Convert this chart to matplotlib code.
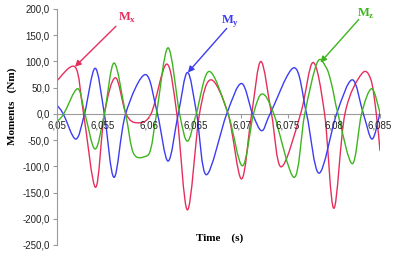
"""
Moments Mx / My / Mz against time, smoothed lines (Excel-style chart).
"""

import matplotlib
matplotlib.use("Agg")
import matplotlib.pyplot as plt
from matplotlib.path import Path
from matplotlib.patches import PathPatch
import numpy as np

# ── data ─────────────────────────────────────────────────────────────────────
# time is given as milliseconds after 6.05 s, moments in Nm
mx_ms = [0, 2.0, 2.9, 4.2, 5.15, 6.35, 7.5, 8.7, 10.2, 11.9, 13.0, 14.15,
         15.45, 16.7, 18.55, 20.0, 21.1, 22.1, 23.25, 24.3, 26.4, 27.75,
         29.0, 30.0, 31.2, 33.0, 34.0, 34.6, 35.0]
mx_nm = [63, 89, 0, -140, 0, 69, 0, -17, 0, 95, 0, -183,
         0, 65, 0, -124, 0, 100, 0, -101, 0, 98,
         0, -180, 0, 76, 66, 0, -70]

my_ms = [0, 0.7, 2.05, 3.0, 4.15, 5.15, 6.2, 7.45, 9.6, 10.9, 12.05, 13.15,
         14.15, 15.15, 16.2, 18.4, 20.0, 21.2, 22.2, 23.1, 25.7, 27.05,
         28.4, 30.3, 32.0, 33.2, 34.15, 35.0]
my_nm = [17, 0, -48, 0, 87, 0, -121, 0, 75, 0, -90, 0,
         79, 0, -116, 0, 58, 0, -32, 0, 88, 0,
         -113, 0, 65, 0, -48, 2]

mz_ms = [0, 0.75, 2.25, 3.05, 4.15, 5.15, 6.2, 7.45, 8.3, 9.6, 10.2, 10.8,
         12.05, 13.3, 14.15, 15.1, 16.5, 18.55, 20.1, 21.3, 22.25, 23.5,
         25.7, 26.85, 28.2, 29.15, 29.75, 30.45, 32.0, 33.0, 34.1, 35.0]
mz_nm = [-15, 0, 48, 0, -67, 0, 97, 0, -75, -81, -65, 0,
         126, 0, -52, 0, 81, 0, -99, 0, 38, 0,
         -121, 0, 98, 89, 57, 0, -95, 0, 48, 2]

x_ticks = [6.05, 6.055, 6.06, 6.065, 6.07, 6.075, 6.08, 6.085]
x_tick_labels = ["6,05", "6,055", "6,06", "6,065", "6,07", "6,075", "6,08", "6,085"]
y_ticks = [200, 150, 100, 50, 0, -50, -100, -150, -200, -250]
y_tick_labels = ["200,0", "150,0", "100,0", "50,0", "0,0", "-50,0",
                 "-100,0", "-150,0", "-200,0", "-250,0"]

RED = "#e62e5c"
BLUE = "#3c3cf2"
GREEN = "#3db51e"
GREY = "#9a9a9a"

plt.rcParams["mathtext.fontset"] = "custom"
plt.rcParams["mathtext.bf"] = "Liberation Serif:bold"
plt.rcParams["mathtext.rm"] = "Liberation Serif"


def smooth_path(ms, vals):
    """Catmull-Rom through the points, as cubic Bezier (like Excel smoothing)."""
    p = np.column_stack([6.05 + np.asarray(ms) / 1000.0, np.asarray(vals, float)])
    ext = np.vstack([p[0], p, p[-1]])
    verts = [p[0]]
    codes = [Path.MOVETO]
    for i in range(len(p) - 1):
        p0, p1, p2, p3 = ext[i], ext[i + 1], ext[i + 2], ext[i + 3]
        verts += [p1 + (p2 - p0) / 6, p2 - (p3 - p1) / 6, p2]
        codes += [Path.CURVE4] * 3
    return Path(verts, codes)


fig = plt.figure(figsize=(3.99, 2.63), dpi=100)
ax = fig.add_axes([56.8 / 399, 18 / 263, (380 - 56.8) / 399, 236 / 263])

for ms, vals, col in [(mx_ms, mx_nm, RED), (my_ms, my_nm, BLUE), (mz_ms, mz_nm, GREEN)]:
    ax.add_patch(PathPatch(smooth_path(ms, vals), fill=False, edgecolor=col,
                           lw=1.0, capstyle="round", joinstyle="round"))

ax.set_xlim(6.05, 6.085)
ax.set_ylim(-250, 200)

ax.spines["top"].set_visible(False)
ax.spines["right"].set_visible(False)
ax.spines["bottom"].set_position(("data", 0))
ax.spines["bottom"].set_color(GREY)
ax.spines["left"].set_color(GREY)
ax.spines["bottom"].set_zorder(0)

ax.set_xticks(x_ticks)
ax.set_xticklabels(x_tick_labels, family="Liberation Sans", fontsize=7, color="#222222")
ax.set_yticks(y_ticks)
ax.set_yticklabels(y_tick_labels, family="Liberation Sans", fontsize=7, color="#222222")
ax.tick_params(axis="both", direction="out", length=3, width=0.8, color=GREY, pad=2)

# axis titles
fig.text(12 / 399, 1 - 106 / 263, "Moments   (Nm)", rotation=90, ha="center", va="center",
         family="Liberation Serif", fontweight="bold", fontsize=8)
fig.text(220 / 399, 1 - 238 / 263, "Time    (s)", ha="center", va="center",
         family="Liberation Serif", fontweight="bold", fontsize=8)

# series labels with arrows
labels = [
    (r"$\mathbf{M}_{\mathbf{x}}$", RED, (6.0576, 182), (6.0564, 167), (6.05197, 90)),
    (r"$\mathbf{M}_{\mathbf{y}}$", BLUE, (6.0688, 177), (6.0684, 163), (6.0642, 79)),
    (r"$\mathbf{M}_{\mathbf{z}}$", GREEN, (6.0835, 190), (6.0827, 180), (6.07855, 98)),
]
for txt, col, txt_xy, tail, head in labels:
    ax.text(*txt_xy, txt, color=col, fontsize=9, ha="center", va="center")
    ax.annotate("", xy=head, xytext=tail,
                arrowprops=dict(arrowstyle="-|>,head_length=0.35,head_width=0.18",
                                color=col, lw=1.0, shrinkA=0, shrinkB=0))

fig.savefig("out.png", dpi=100)
